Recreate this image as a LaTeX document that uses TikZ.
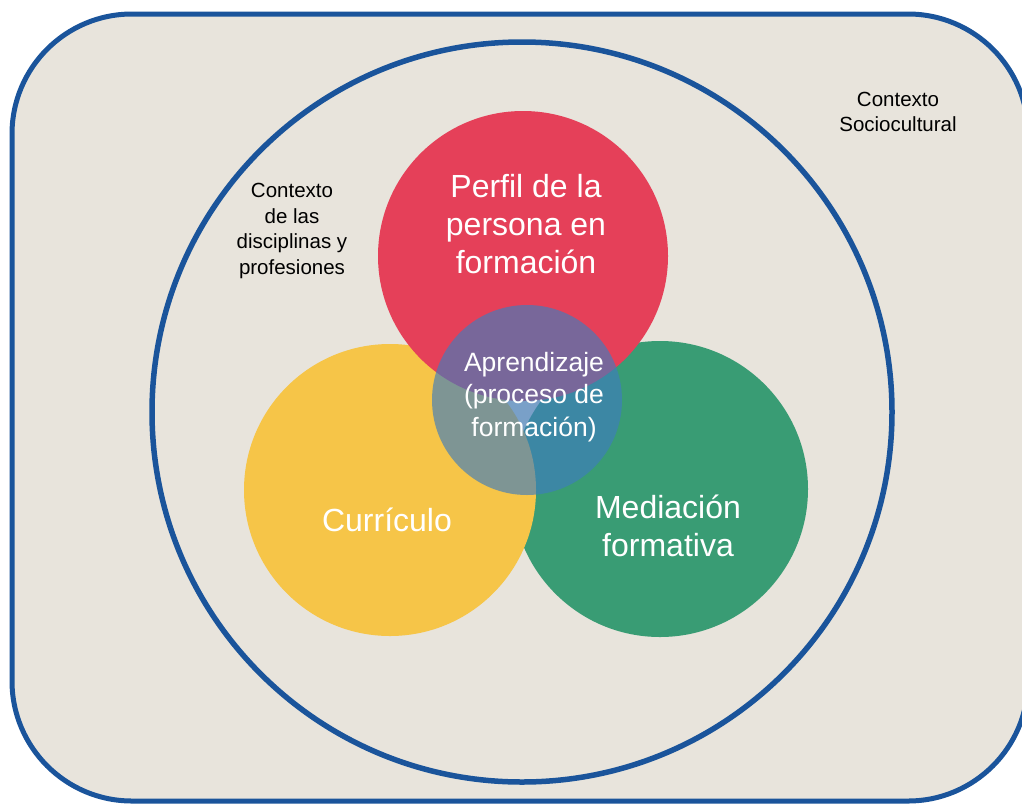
\documentclass[tikz,border=0pt]{standalone}
\usepackage{fontspec}
\setmainfont{Liberation Sans}
\definecolor{bgbeige}{RGB}{232,228,220}
\definecolor{lineblue}{RGB}{26,84,155}
\definecolor{cred}{RGB}{229,64,89}
\definecolor{cyellow}{RGB}{246,197,72}
\definecolor{cgreen}{RGB}{57,156,116}
\definecolor{cblue}{RGB}{62,124,190}
\tikzset{
  disc/.style={circle, inner sep=0pt, draw=none},
  bigtext/.style={text=white, align=center, font=\fontsize{32}{38}\selectfont},
  midtext/.style={text=white, align=center, font=\fontsize{26.5}{32.5}\selectfont},
  smalltext/.style={text=black, align=center, font=\fontsize{20.5}{25.5}\selectfont},
}
\begin{document}
\begin{tikzpicture}[x=1pt,y=-1pt]
\useasboundingbox (0,0) rectangle (1022,804);
\clip (0,0) rectangle (1022,804);
\fill[white] (0,0) rectangle (1022,804);
% outer rounded frame
\draw[lineblue, line width=5pt, fill=bgbeige, rounded corners=120pt] (12,14) rectangle (1028,801);
% big circle
\node[disc, draw=lineblue, line width=5.5pt, minimum size=740pt] (ctx) at (522,412) {};
% three discs
\node[disc, fill=cgreen, minimum size=296pt] (med) at (660,489) {};
\node[disc, fill=cyellow, minimum size=292pt] (cur) at (390,490) {};
\node[disc, fill=cred, minimum size=290pt] (per) at (523,256) {};
% central translucent disc
\node[disc, fill=cblue, fill opacity=0.65, minimum size=190pt] (apr) at (527,400) {};
% texts
\node[bigtext] (tper) at (526,224) {Perfil de la\\persona en\\formación};
\node[midtext] (tapr) at (534,397) {Aprendizaje\\(proceso de\\formación)};
\node[bigtext] (tcur) at (387,520) {Currículo};
\node[bigtext] (tmed) at (668,526) {Mediación\\formativa};
\node[smalltext] (tdis) at (292,231) {Contexto\\de las\\disciplinas y\\profesiones};
\node[smalltext] (tsoc) at (898,112) {Contexto\\Sociocultural};
\end{tikzpicture}
\end{document}
